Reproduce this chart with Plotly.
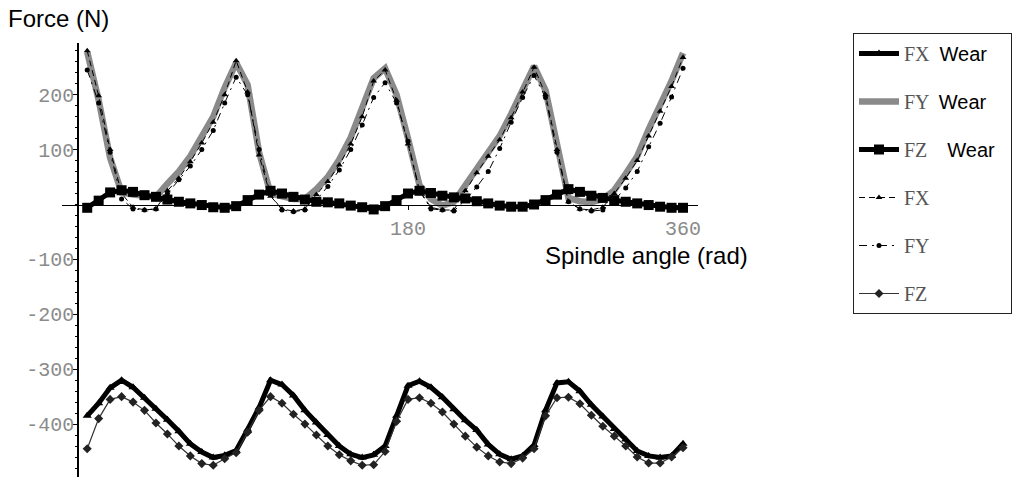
import plotly.graph_objects as go

# Spindle angle grid (axis units)
angle = [-30, -22.5, -15, -7.5, 0, 7.5, 15, 22.5, 30, 37.5, 45, 52.5, 60, 67.5, 75, 82.5,
         90, 97.5, 105, 112.5, 120, 127.5, 135, 142.5, 150, 157.5, 165, 172.5, 180, 187.5,
         195, 202.5, 210, 217.5, 225, 232.5, 240, 247.5, 255, 262.5, 270, 277.5, 285, 292.5,
         300, 307.5, 315, 322.5, 330, 337.5, 345, 352.5, 360]

fx_wear = [-385, -362, -334, -320, -333, -352, -372, -392, -413, -436, -451, -461, -457, -448,
           -410, -370, -320, -328, -348, -375, -397, -420, -440, -455, -461, -456, -440, -385,
           -330, -322, -333, -351, -373, -393, -411, -437, -455, -464, -458, -438, -375, -325,
           -323, -340, -365, -386, -409, -428, -449, -458, -461, -458, -436]
fy_wear = [278, 190, 85, 22, 18, 15, 14, 38, 60, 88, 125, 160, 213, 258, 218, 95, 20, 15, 10, 10,
           28, 50, 82, 122, 175, 230, 248, 200, 120, 35, 10, -2, 5, 35, 66, 97, 125, 165, 212, 252,
           208, 110, 12, 6, 4, 10, 26, 56, 88, 137, 180, 225, 276]
fz_wear = [-6, 7, 22, 26, 23, 17, 14, 9, 5, 2, -1, -5, -6, -3, 8, 18, 25, 20, 14, 9, 5, 4, 2, -2,
           -5, -9, -3, 8, 20, 25, 21, 16, 13, 11, 6, 2, -2, -4, -4, 0, 8, 18, 28, 23, 16, 12, 8, 5,
           2, -1, -4, -6, -6]
fx = [280, 198, 100, 20, -5, -10, -8, 25, 48, 78, 112, 150, 200, 262, 205, 90, 15, -8, -12, -8,
      18, 42, 72, 110, 160, 225, 245, 190, 110, 25, -5, -10, -10, 25, 58, 88, 118, 158, 205, 250,
      200, 100, 5, -8, -10, -5, 20, 48, 80, 125, 170, 215, 268]
fy = [245, 185, 95, 10, -8, -10, -8, 20, 45, 70, 100, 135, 185, 232, 200, 100, 18, -10, -13, -10,
      8, 33, 63, 100, 145, 195, 222, 185, 115, 25, -8, -10, -12, 8, 32, 60, 102, 150, 195, 235,
      195, 95, 5, -8, -12, -10, 8, 30, 60, 105, 148, 196, 248]
fz = [-445, -390, -355, -350, -360, -375, -398, -418, -440, -458, -472, -475, -463, -452, -415,
      -375, -350, -362, -382, -400, -420, -440, -456, -467, -475, -474, -450, -395, -355, -352,
      -362, -378, -400, -422, -442, -458, -469, -472, -462, -445, -385, -352, -351, -363, -384,
      -404, -422, -440, -460, -471, -471, -460, -443]

y_tickvals = [-400, -300, -200, -100, 100, 200]
y_ticktext = ["-400", "-300", "-200", "-100", "100", "200"]
x_tickvals = [180, 360]
x_ticktext = ["180", "360"]

COMP = "<span style='font-family:Liberation Serif, Times New Roman, serif;color:#555555'>%s</span>"
WEAR = "<span style='font-family:Liberation Sans, Arial, sans-serif;color:#000000'>%s</span>"

fig = go.Figure()
fig.add_trace(go.Scatter(x=angle, y=fx_wear, mode="lines+markers",
                         name=COMP % "FX" + "  " + WEAR % "Wear",
                         line=dict(color="black", width=5),
                         marker=dict(symbol="triangle-up", size=8, color="black"),
                         legendgroup="a"))
fig.add_trace(go.Scatter(x=angle, y=fy_wear, mode="lines",
                         name=COMP % "FY" + "  " + WEAR % "Wear",
                         line=dict(color="#8a8a8a", width=6.5), legendgroup="b"))
fig.add_trace(go.Scatter(x=angle, y=fz_wear, mode="lines+markers",
                         name=COMP % "FZ" + "    " + WEAR % "Wear\u00a0\u00a0",
                         line=dict(color="black", width=5),
                         marker=dict(symbol="square", size=10, color="black"),
                         legendgroup="c"))
fig.add_trace(go.Scatter(x=angle, y=fx, mode="lines+markers", name=COMP % "FX",
                         line=dict(color="black", width=1, dash="6px,4px"),
                         marker=dict(symbol="triangle-up", size=6, color="black"),
                         legendgroup="d"))
fig.add_trace(go.Scatter(x=angle, y=fy, mode="lines+markers", name=COMP % "FY",
                         line=dict(color="black", width=1, dash="8px,5px,2px,5px"),
                         marker=dict(symbol="circle", size=5, color="black"),
                         legendgroup="e"))
fig.add_trace(go.Scatter(x=angle, y=fz, mode="lines+markers", name=COMP % "FZ",
                         line=dict(color="#333333", width=1.2),
                         marker=dict(symbol="diamond", size=7, color="#222222"),
                         legendgroup="f"))

L, R, T, B = 62, 698, 43, 477
W, H = 1015, 477
pw, ph = R - L, B - T


def px(xp):
    return (xp - L) / pw


def py(yp):
    return (B - yp) / ph


fig.update_layout(
    width=W, height=H,
    margin=dict(l=L, r=W - R, t=T, b=H - B, pad=0, autoexpand=False),
    paper_bgcolor="white", plot_bgcolor="white",
    showlegend=True,
    legend=dict(x=px(853), y=py(33), xanchor="left", yanchor="top",
                bgcolor="white", bordercolor="#222222", borderwidth=1,
                font=dict(family="Liberation Serif, Times New Roman, serif", size=20, color="#555555"),
                traceorder="grouped", tracegroupgap=19, itemwidth=40, maxheight=440),
    xaxis=dict(range=[-46.5, 369.8], anchor="free", position=py(204.5),
               showline=True, linecolor="black", linewidth=1,
               showgrid=False, zeroline=False,
               tickvals=x_tickvals, ticktext=x_ticktext,
               ticks="outside", ticklen=4, tickcolor="black",
               ticklabelstandoff=1,
               tickfont=dict(family="Liberation Mono, Courier New, monospace", size=20, color="#8a8a8a")),
    yaxis=dict(range=[-496.4, 294.2], anchor="free", position=px(78),
               showline=True, linecolor="black", linewidth=1.5,
               showgrid=False, zeroline=False,
               tickvals=y_tickvals, ticktext=y_ticktext,
               ticks="outside", ticklen=5, tickcolor="black",
               minor=dict(dtick=20, ticks="outside", ticklen=2, tickcolor="black", showgrid=False),
               ticklabelstandoff=-6,
               tickfont=dict(family="Liberation Mono, Courier New, monospace", size=20, color="#8a8a8a")),
    annotations=[
        dict(text="Force (N)", x=px(6), y=py(18), xref="paper", yref="paper",
             xanchor="left", yanchor="middle", showarrow=False,
             font=dict(family="Liberation Sans, Arial", size=24, color="black")),
        dict(text="Spindle angle (rad)", x=px(543), y=py(240), xref="paper", yref="paper",
             xanchor="left", yanchor="top", showarrow=False,
             font=dict(family="Liberation Sans, Arial", size=24, color="black")),
    ],
)

fig.write_html("out.html", config={"displayModeBar": False},
               post_script="document.body.style.margin='0';")
